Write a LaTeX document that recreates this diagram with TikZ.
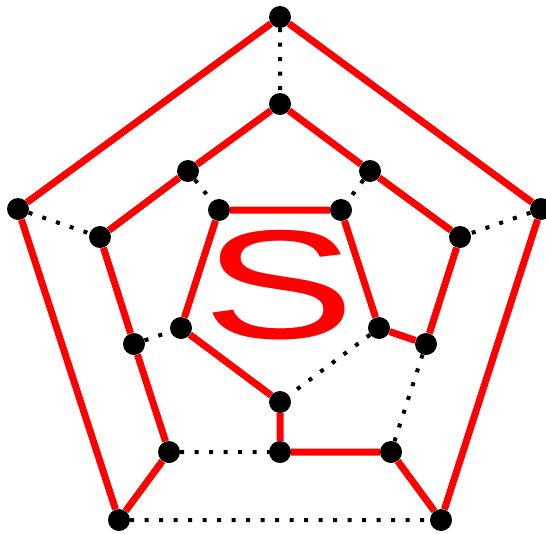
\documentclass[tikz,border=0pt]{standalone}
\usepackage{fontspec}
\setmainfont{Liberation Sans}
\begin{document}
\begin{tikzpicture}[x=1pt,y=-1pt,
  vtx/.style={circle,fill=black,minimum size=22pt,inner sep=0pt},
  ham/.style={draw=red,line width=7pt},
  rest/.style={draw=black,line width=4pt,dash pattern=on 4pt off 10.5pt}]
\useasboundingbox (0,0) rectangle (546,533);
% S label
\node[text=red,inner sep=0pt,xscale=1.48] (S) at (279,285) {\fontsize{155}{155}\selectfont S};
% outer
\node[vtx] (O0) at (280,17) {};
\node[vtx] (O1) at (18,209) {};
\node[vtx] (O2) at (541,209) {};
\node[vtx] (O3) at (119,520) {};
\node[vtx] (O4) at (441,520) {};
% middle
\node[vtx] (M0) at (280,104) {};
\node[vtx] (M1) at (188,171) {};
\node[vtx] (M2) at (370,171) {};
\node[vtx] (M3) at (100,237) {};
\node[vtx] (M4) at (460,237) {};
\node[vtx] (M5) at (134,344) {};
\node[vtx] (M6) at (426,344) {};
\node[vtx] (M7) at (169,452) {};
\node[vtx] (M8) at (391,452) {};
\node[vtx] (M9) at (280,452) {};
% inner
\node[vtx] (I0) at (219,210) {};
\node[vtx] (I1) at (341,210) {};
\node[vtx] (I2) at (181,328) {};
\node[vtx] (I3) at (379,328) {};
\node[vtx] (I4) at (280,402) {};
% Hamiltonian cycle
\path[ham] (O0) -- (O1) (O0) -- (O2) (O1) -- (O3) (O2) -- (O4)
  (O3) -- (M7) (O4) -- (M8)
  (M0) -- (M1) (M0) -- (M2) (M1) -- (M3) (M2) -- (M4)
  (M3) -- (M5) (M4) -- (M6) (M5) -- (M7) (M8) -- (M9)
  (M6) -- (I3) (M9) -- (I4)
  (I0) -- (I1) (I1) -- (I3) (I4) -- (I2) (I2) -- (I0);
% remaining edges
\path[rest] (O3) -- (O4) (O0) -- (M0) (O1) -- (M3) (O2) -- (M4)
  (M6) -- (M8) (M7) -- (M9)
  (M1) -- (I0) (M2) -- (I1) (M5) -- (I2) (I3) -- (I4);
\end{tikzpicture}
\end{document}
